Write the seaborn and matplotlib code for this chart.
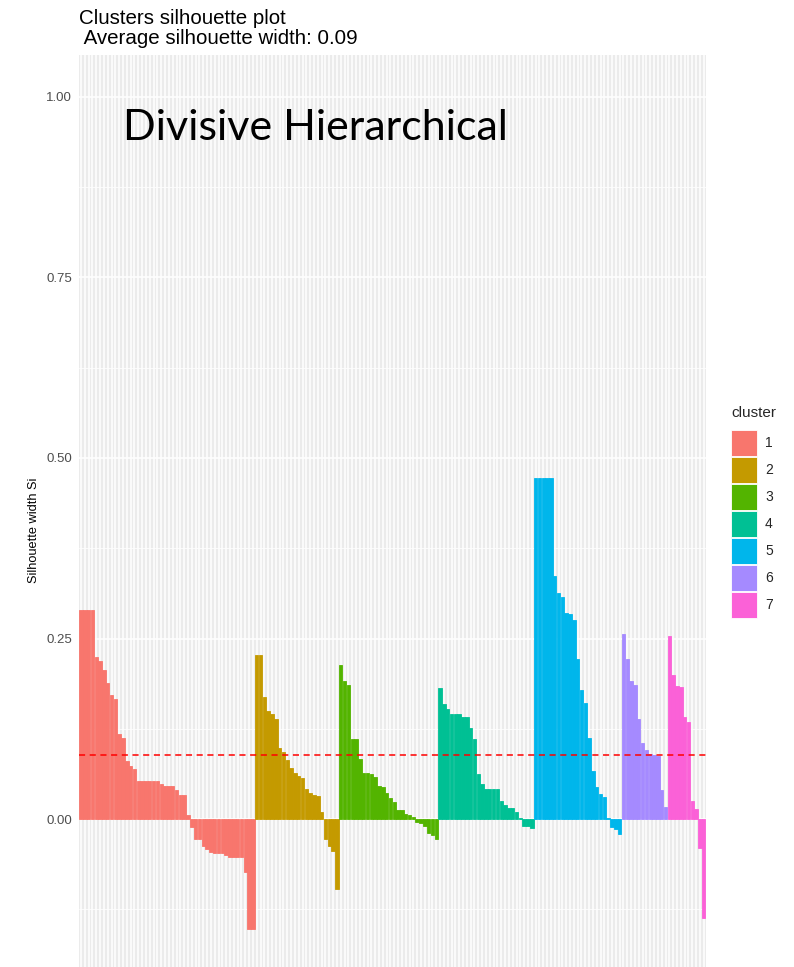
import numpy as np
import pandas as pd
import matplotlib
matplotlib.use("Agg")
import matplotlib.pyplot as plt
from matplotlib.patches import Patch
import seaborn as sns

# ---- data (silhouette widths, sorted within cluster) ----
sil_c1 = [0.290, 0.290, 0.290, 0.290, 0.225, 0.219, 0.206, 0.188, 0.172, 0.166,
          0.118, 0.112, 0.080, 0.073, 0.069, 0.053, 0.053, 0.053, 0.053, 0.053,
          0.053, 0.049, 0.046, 0.046, 0.046, 0.040, 0.033, 0.033, 0.005, -0.0115,
          -0.028, -0.028, -0.037, -0.042, -0.046, -0.0475, -0.0475, -0.0475, -0.050, -0.052,
          -0.052, -0.052, -0.052, -0.074, -0.152, -0.152]
sil_c2 = [0.227, 0.227, 0.1685, 0.150, 0.145, 0.139, 0.098, 0.093, 0.082, 0.070,
          0.064, 0.059, 0.057, 0.041, 0.0355, 0.033, 0.032, 0.0093, -0.028, -0.037,
          -0.044, -0.0965]
sil_c3 = [0.213, 0.191, 0.185, 0.111, 0.111, 0.083, 0.064, 0.064, 0.063, 0.058,
          0.046, 0.044, 0.0355, 0.029, 0.0235, 0.013, 0.013, 0.0065, 0.006, 0.003,
          -0.004, -0.005, -0.009, -0.020, -0.022, -0.028]
sil_c4 = [0.182, 0.159, 0.152, 0.1455, 0.1455, 0.1455, 0.1417, 0.1417, 0.126, 0.111,
          0.0623, 0.0485, 0.041, 0.041, 0.041, 0.041, 0.0245, 0.019, 0.015, 0.015,
          0.0097, 0.001, -0.009, -0.009, -0.0125]
sil_c5 = [0.472, 0.472, 0.472, 0.472, 0.472, 0.337, 0.313, 0.307, 0.286, 0.284,
          0.275, 0.222, 0.179, 0.161, 0.112, 0.067, 0.044, 0.035, 0.031, 0.002,
          -0.0106, -0.014, -0.021]
sil_c6 = [0.256, 0.222, 0.191, 0.185, 0.139, 0.105, 0.095, 0.090, 0.088, 0.087,
          0.040, 0.016]
sil_c7 = [0.2535, 0.199, 0.184, 0.183, 0.141, 0.134, 0.0245, 0.0143, -0.040, -0.1375]

cluster_labels = ["1", "2", "3", "4", "5", "6", "7"]
cluster_colors = ["#F8766D", "#C49A00", "#53B400", "#00C094", "#00B6EB", "#A58AFF", "#FB61D7"]
avg_sil_width = 0.0886
y_ticks = [0.00, 0.25, 0.50, 0.75, 1.00]
y_tick_labels = ["0.00", "0.25", "0.50", "0.75", "1.00"]

all_sil = [sil_c1, sil_c2, sil_c3, sil_c4, sil_c5, sil_c6, sil_c7]
rows = []
for lab, vals in zip(cluster_labels, all_sil):
    for v in vals:
        rows.append((lab, v))
df = pd.DataFrame(rows, columns=["cluster", "sil_width"])
df["obs"] = np.arange(len(df))
N = len(df)

# ---- figure ----
sns.set_style("white")
plt.rcParams["font.family"] = ["Liberation Sans", "DejaVu Sans"]

W, H = 794, 967
fig = plt.figure(figsize=(W / 100, H / 100), dpi=100)
ylo, yhi = -0.2101, 1.0576
px_top, px_bot = 55.4, 970.7
ax = fig.add_axes([78.7 / W, 1 - px_bot / H, (706 - 78.7) / W, (px_bot - px_top) / H])
ax.set_facecolor("#EBEBEB")
for s in ax.spines.values():
    s.set_visible(False)

palette = dict(zip(cluster_labels, cluster_colors))
sns.barplot(data=df, x="obs", y="sil_width", hue="cluster", hue_order=cluster_labels,
            palette=palette, dodge=False, width=0.9, saturation=1, legend=False,
            linewidth=0.6, ax=ax)
for p in ax.patches:
    p.set_edgecolor(p.get_facecolor())

ax.set_xlim(-0.6, N - 1 + 0.6)
ax.set_ylim(ylo, yhi)
ax.set_xticks(range(N))
ax.set_xticklabels([])
ax.tick_params(axis="x", length=0, labelbottom=False)
ax.set_xlabel("")
ax.set_yticks(y_ticks)
ax.set_yticklabels(y_tick_labels)
ax.set_yticks([-0.125, 0.125, 0.375, 0.625, 0.875], minor=True)
ax.tick_params(axis="y", which="major", length=3.2, width=0.8, color="#333333",
               labelcolor="#4D4D4D", labelsize=9.5, pad=1.5)
ax.tick_params(axis="y", which="minor", length=0)
ax.set_axisbelow(True)
ax.grid(True, which="major", axis="both", color="white", linewidth=1.1)
ax.grid(True, which="minor", axis="y", color="white", linewidth=0.55)

ax.axhline(avg_sil_width, color="red", linestyle=(0, (4, 3)), linewidth=1.1)

ax.set_ylabel("Silhouette width Si", fontsize=9.2, color="black")
ax.yaxis.set_label_coords(40 / W, 1 - 530 / H, transform=fig.transFigure)

ax.set_title("Clusters silhouette plot\n Average silhouette width: 0.09",
             loc="left", fontsize=14.8, linespacing=1.02, pad=8.5, color="black")

txt = ax.text((123 - 78.7) / (706 - 78.7), (px_bot - 140) / (px_bot - px_top),
              "Divisive Hierarchical", transform=ax.transAxes, fontsize=34,
              family=["Lato", "DejaVu Sans"], va="baseline", ha="left", color="black")

# legend (ggplot-style square keys)
fs_leg = 10
fs_px = fs_leg * 100 / 72
key_h = 26.0 / fs_px
hh = (key_h - 0.245) / 0.65
handles = [Patch(facecolor=c, edgecolor="white", linewidth=0.6) for c in cluster_colors]
leg = ax.legend(handles, cluster_labels, title="cluster", loc="upper left",
                bbox_to_anchor=(731 / W, 1 - 406 / H), bbox_transform=fig.transFigure,
                frameon=False, fontsize=fs_leg, title_fontsize=11,
                handlelength=25.6 / fs_px, handleheight=hh,
                labelspacing=1.0 / fs_px, handletextpad=8.5 / fs_px,
                borderpad=0, borderaxespad=0, alignment="left")
try:
    leg._legend_box.sep = 7
except Exception:
    pass

fig.canvas.draw()
w = txt.get_window_extent().width
txt.set_fontsize(34 * 387 / w)

fig.savefig("out.png", dpi=100, facecolor="white")
